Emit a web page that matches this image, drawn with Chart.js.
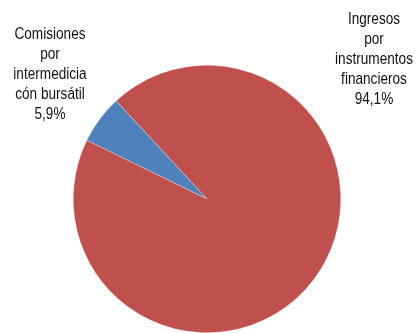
<!DOCTYPE html>
<html>
<head>
<meta charset="utf-8">
<script src="https://cdn.jsdelivr.net/npm/chart.js@4/dist/chart.umd.min.js"></script>
<style>
html,body{margin:0;padding:0;background:#fff;}
#wrap{width:417px;height:333px;position:relative;}
</style>
</head>
<body>
<div id="wrap"><canvas id="c" width="417" height="333"></canvas></div>
<script>
const categories = ['Comisiones por intermedicia cón bursátil', 'Ingresos por instrumentos financieros'];
const labelLines = [
  ['Comisiones', 'por', 'intermedicia', 'cón bursátil'],
  ['Ingresos', 'por', 'instrumentos', 'financieros']
];
const values = [5.9, 94.1];
const valueLabels = ['5,9%', '94,1%'];
const colors = ['#4F81BD', '#C0504D'];

const labelPlugin = {
  id: 'outerLabels',
  afterDraw(chart) {
    const ctx = chart.ctx;
    const pos = [{x: 50, y: 35}, {x: 374, y: 20}];
    const lh = 20;
    labelLines.forEach((lines, i) => {
      const all = lines.concat([valueLabels[i]]);
      all.forEach((t, j) => {
        ctx.save();
        ctx.translate(pos[i].x, pos[i].y + j * lh);
        ctx.scale(0.85, 1);
        ctx.font = '16px "Liberation Sans", Arial, sans-serif';
        ctx.fillStyle = '#111';
        ctx.textAlign = 'center';
        ctx.textBaseline = 'middle';
        ctx.fillText(t, 0, 0);
        ctx.restore();
      });
    });
  }
};

new Chart(document.getElementById('c'), {
  type: 'pie',
  data: {
    labels: categories,
    datasets: [{
      data: values,
      backgroundColor: colors,
      borderColor: 'rgba(255,255,255,0.6)',
      borderWidth: 0.5
    }]
  },
  options: {
    responsive: false,
    animation: false,
    rotation: -64,
    layout: { padding: { top: 65, bottom: 0, left: 73, right: 76 } },
    plugins: { legend: { display: false }, tooltip: { enabled: false } }
  },
  plugins: [labelPlugin]
});
</script>
</body>
</html>
